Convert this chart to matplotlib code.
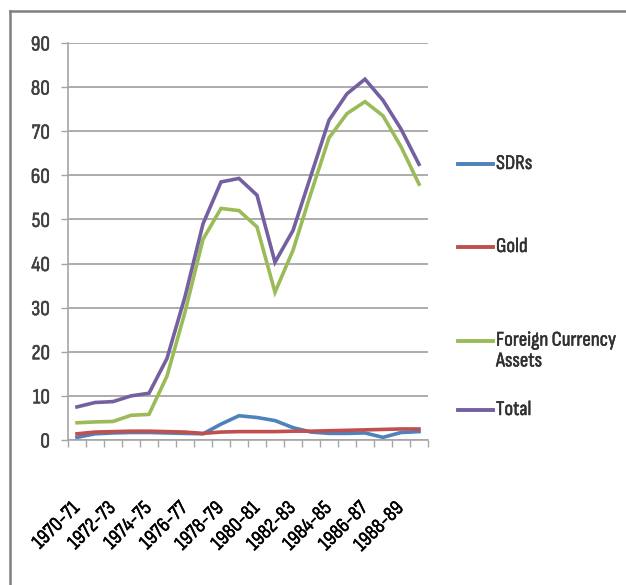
import numpy as np
import matplotlib
matplotlib.use('Agg')
import matplotlib.pyplot as plt
import matplotlib.patheffects as pe
from matplotlib.lines import Line2D

plt.rcParams['font.family'] = ['Sofia Sans Condensed', 'DejaVu Sans']

# Dữ liệu dự trữ ngoại hối theo năm tài khóa
years = ['1970-71', '1971-72', '1972-73', '1973-74', '1974-75', '1975-76',
         '1976-77', '1977-78', '1978-79', '1979-80', '1980-81', '1981-82',
         '1982-83', '1983-84', '1984-85', '1985-86', '1986-87', '1987-88',
         '1988-89', '1989-90']
sdrs = [0.6, 1.4, 1.6, 1.7, 1.7, 1.6, 1.5, 1.4, 3.6, 5.5,
        5.1, 4.4, 2.8, 1.8, 1.5, 1.5, 1.6, 0.6, 1.7, 1.9]
gold = [1.4, 1.8, 1.9, 2.0, 2.0, 1.9, 1.8, 1.5, 1.8, 1.9,
        1.9, 1.9, 2.0, 2.0, 2.1, 2.2, 2.3, 2.4, 2.5, 2.5]
foreign = [3.9, 4.1, 4.2, 5.6, 5.8, 14.5, 29.0, 45.5, 52.5, 52.0,
           48.3, 33.5, 43.0, 56.0, 68.5, 74.0, 76.7, 73.5, 66.5, 58.0]
total = [7.5, 8.5, 8.7, 10.0, 10.6, 18.5, 32.5, 49.0, 58.5, 59.3,
         55.5, 40.3, 47.5, 60.0, 72.5, 78.5, 81.8, 77.0, 70.5, 62.5]

series_names = ['SDRs', 'Gold', 'Foreign Currency\nAssets', 'Total']
series_colors = ['#4F81BD', '#C0504D', '#9BBB59', '#7460A0']

fig = plt.figure(figsize=(6.26, 5.85), dpi=100)
ax = fig.add_axes([68 / 626, 1 - 440 / 585, 360 / 626, 397 / 585])

x = np.arange(len(years))
for vals, name, col in zip([sdrs, gold, foreign, total], series_names, series_colors):
    ax.plot(x, vals, color=col, lw=2.6, solid_joinstyle='miter', label=name)

ax.set_xlim(-0.5, len(years) - 0.5)
ax.set_ylim(0, 90)
ax.set_yticks(np.arange(0, 91, 10))
ax.yaxis.grid(True, color='#A6A6A6', lw=1.3)
ax.set_axisbelow(True)

# vạch chia giữa các năm, nhãn cách một năm
ax.set_xticks(np.arange(-0.5, len(years), 1))
ax.set_xticklabels([])
ax.set_xticks(x[::2], years[::2], minor=True)
ax.tick_params(axis='x', which='major', length=5, color='#A6A6A6', width=1)
ax.tick_params(axis='x', which='minor', length=0, pad=47, labelsize=15)
for lbl in ax.get_xticklabels(minor=True):
    lbl.set_rotation(45)
    lbl.set_ha('right')
    lbl.set_va('center')
    lbl.set_rotation_mode('anchor')
ax.tick_params(axis='y', length=5, color='#A6A6A6', width=1, pad=8, labelsize=15.5,
               labelcolor='#404040')
ax.tick_params(axis='x', labelcolor='#202020')

for s in ['top', 'right']:
    ax.spines[s].set_visible(False)
for s in ['left', 'bottom']:
    ax.spines[s].set_color('#A6A6A6')
    ax.spines[s].set_linewidth(1.2)

# chú giải vẽ tay ở bên phải (vạch màu ngang dòng chữ đầu tiên)
line_y = [164, 247, 341, 410]
text_y = [164, 247, 351, 410]
legend_texts = []
for name, col, ly, ty in zip(series_names, series_colors, line_y, text_y):
    fig.add_artist(Line2D([458 / 626, 493 / 626], [1 - ly / 585, 1 - ly / 585],
                          color=col, lw=2.8, transform=fig.transFigure))
    t = fig.text(496 / 626, 1 - ty / 585, name, fontsize=15, color='#303030',
                 va='center', ha='left', linespacing=1.2)
    legend_texts.append(t)

# làm chữ đậm hơn một chút
for t in legend_texts + ax.get_yticklabels() + ax.get_xticklabels(minor=True):
    t.set_path_effects([pe.withStroke(linewidth=0.35, foreground=t.get_color())])

# khung viền
fig.add_artist(Line2D([10 / 626, 1], [1 - 11 / 585, 1 - 11 / 585], color='#7F7F7F',
                      lw=1.8, transform=fig.transFigure))
fig.add_artist(Line2D([10 / 626, 10 / 626], [0, 1 - 11 / 585], color='#7F7F7F',
                      lw=1.8, transform=fig.transFigure))

fig.savefig('out.png', dpi=100)
